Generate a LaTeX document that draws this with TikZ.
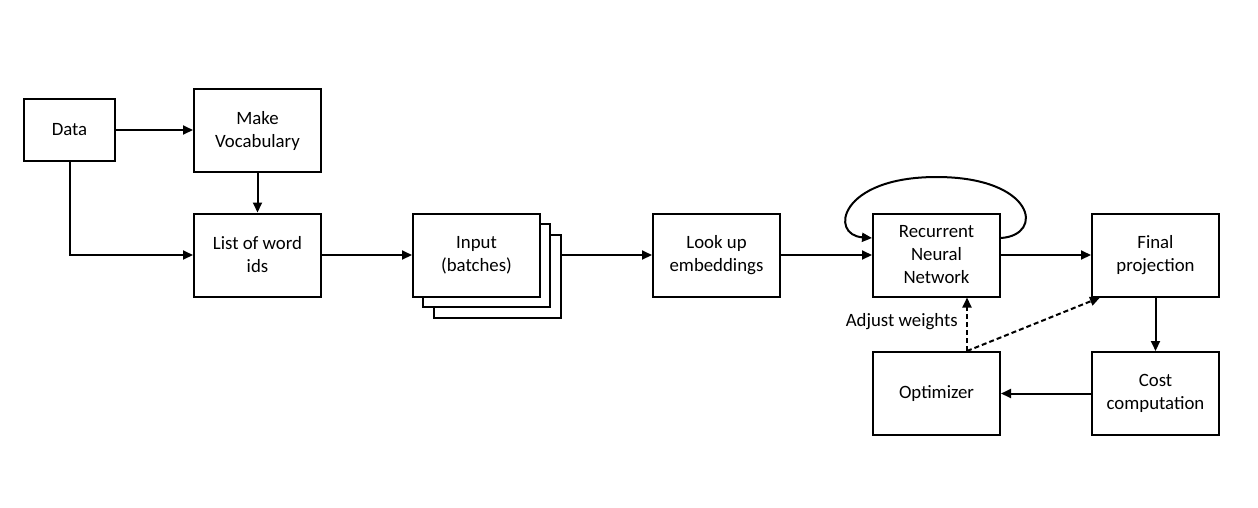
\documentclass[tikz,border=0pt]{standalone}
\usepackage{fontspec}
\setmainfont{Carlito}
\usetikzlibrary{arrows.meta,calc}
\begin{document}
\begin{tikzpicture}[x=1pt,y=-1pt,
  font=\fontsize{18.8}{23}\selectfont,
  box/.style={draw,line width=2pt,fill=white,minimum width=127pt,minimum height=83pt,
    align=center,inner sep=0pt},
  conn/.style={line width=2pt,-{Triangle[length=10pt,width=9pt]}},
  dconn/.style={conn,dash pattern=on 5pt off 3pt}]
\useasboundingbox (0,0) rectangle (1258,507);

% processing blocks
\node[box,minimum width=91pt,minimum height=62pt] (data) at (69.5,130) {Data};
\node[box] (vocab) at (257.5,130.5) {Make\\Vocabulary};
\node[box] (ids) at (257.5,255) {List of word\\ids};

% stacked batch boxes
\node[box] (in3) at (497.5,276) {};
\node[box] (in2) at (486.5,265.5) {};
\node[box] (in1) at (476.5,255) {Input\\(batches)};

\node[box] (emb) at (716.5,255) {Look up\\embeddings};
\node[box] (rnn) at (936.5,255) {Recurrent\\Neural\\Network};
\node[box] (proj) at (1155.5,255) {Final\\projection};
\node[box] (cost) at (1155.5,393.5) {Cost\\computation};
\node[box] (opt) at (936.5,393.5) {Optimizer};

% main flow
\draw[conn] (data.east) -- (vocab.west |- data.east);
\draw[conn] (vocab.south) -- (ids.north);
\draw[conn] (data.south) |- (ids.west);
\draw[conn] (ids.east) -- (in1.west);
\draw[conn] (in3.east |- in1.east) -- (emb.west);
\draw[conn] (emb.east) -- (rnn.west);
\draw[conn] (rnn.east) -- (proj.west);
\draw[conn] (proj.south) -- (cost.north);
\draw[conn] (cost.west) -- (opt.east);

% recurrence loop
\coordinate (loopout) at ($(rnn.east)+(0,-17)$);
\coordinate (loopin) at ($(rnn.west)+(0,-17)$);
\coordinate (looptop) at (936.5,177);
\draw[conn] (loopout) .. controls (1045,235) and (1035,177) .. (looptop)
  .. controls (839,177) and (829,235) .. (loopin);

% weight updates
\coordinate (upd) at ($(opt.north)+(30.5,0)$);
\coordinate (projin) at ($(proj.south west)+(9,0)$);
\draw[dconn] (upd) -- (upd |- rnn.south);
\draw[dconn] (upd) -- (projin);
\node[anchor=east,inner sep=0pt] (adj) at (958,322) {Adjust weights};
\end{tikzpicture}
\end{document}
